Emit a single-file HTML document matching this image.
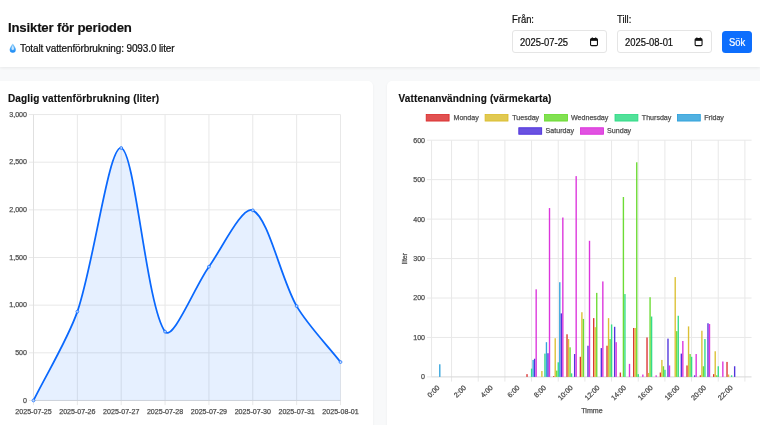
<!DOCTYPE html>
<html lang="sv"><head><meta charset="utf-8"><title>Insikter</title>
<style>
html,body{margin:0;padding:0;}
body{width:760px;height:438px;overflow:hidden;background:#fff;position:relative;font-family:"Liberation Sans", sans-serif;color:#111;}
.abs{position:absolute;white-space:nowrap;}
#gray{left:0;top:67px;width:760px;height:358px;background:#f8f9fa;overflow:hidden;}
#hdr{left:0;top:0;width:760px;height:67px;background:#fff;box-shadow:0 1px 3px rgba(0,0,0,.07);}
.card{background:#fff;border-radius:5px;box-shadow:0 1px 3px rgba(0,0,0,.05);}
#h2{left:8px;top:20.2px;font-size:13.2px;font-weight:bold;line-height:16px;letter-spacing:-0.18px;-webkit-text-stroke:0.15px #111;}
#sub{left:20px;top:42px;font-size:10.4px;line-height:13px;letter-spacing:-0.12px;transform:scaleX(.962);transform-origin:left center;-webkit-text-stroke:0.22px #111;}
.lbl{font-size:10.3px;line-height:13px;top:12.9px;transform:scaleX(.915);transform-origin:left center;-webkit-text-stroke:0.22px #111;}
.inp{top:30.4px;height:20.6px;width:92.8px;border:1px solid #e5e5e5;border-radius:3px;background:#fff;box-sizing:content-box;}
.inp span{position:absolute;left:6.9px;top:4.5px;font-size:10px;line-height:13px;transform:scaleX(.94);transform-origin:left center;-webkit-text-stroke:0.22px #111;}
#btn{left:721.7px;top:30.5px;width:30.6px;height:22.4px;background:#0d6efd;border-radius:3.5px;color:#fff;font-size:10.6px;line-height:23.2px;text-align:center;-webkit-text-stroke:0.2px #fff;}
#btn span{display:inline-block;transform:scaleX(.89);}
.ct{font-size:10px;font-weight:bold;line-height:12px;top:93px;letter-spacing:0.14px;-webkit-text-stroke:0.15px #111;}
svg{position:absolute;left:0;top:0;}
svg text{font-family:"Liberation Sans", sans-serif;stroke:#505050;stroke-width:0.25px;}
</style></head>
<body>
<div id="root" style="position:absolute;left:0;top:0;width:760px;height:438px;will-change:transform;">
<div id="gray" class="abs">
  <div class="abs card" style="left:-12px;top:13.900000000000006px;width:385px;height:400px;"></div>
  <div class="abs card" style="left:387.3px;top:13.900000000000006px;width:400px;height:400px;"></div>
</div>
<div id="hdr" class="abs"></div>
<div id="h2" class="abs">Insikter för perioden</div>
<div id="sub" class="abs">Totalt vattenförbrukning: 9093.0 liter</div>
<div class="abs lbl" style="left:512.3px;">Från:</div>
<div class="abs lbl" style="left:617px;">Till:</div>
<div class="abs inp" style="left:512px;"><span>2025-07-25</span></div>
<div class="abs inp" style="left:616.9px;"><span>2025-08-01</span></div>
<div id="btn" class="abs"><span>Sök</span></div>
<div class="abs ct" style="left:8px;">Daglig vattenförbrukning (liter)</div>
<div class="abs ct" style="left:398.6px;">Vattenanvändning (värmekarta)</div>
<svg width="760" height="438" viewBox="0 0 760 438">
<!-- drop icon -->
<defs><linearGradient id="dg" x1="0" y1="0" x2="0" y2="1"><stop offset="0" stop-color="#9fd6fb"/><stop offset="0.55" stop-color="#46a6f7"/><stop offset="1" stop-color="#1787f5"/></linearGradient></defs>
<path d="M12.75 43.5 C12.75 43.5 9.7 47.3 9.7 49.75 A3.05 3.05 0 0 0 15.8 49.75 C15.8 47.3 12.75 43.5 12.75 43.5 Z" fill="url(#dg)"/>
<path d="M12.75 45.6 C12.75 45.6 11.5 47.6 11.5 48.7 A1.25 1.25 0 0 0 14 48.7 C14 47.6 12.75 45.6 12.75 45.6 Z" fill="#fff" opacity="0.7"/>
<g transform="translate(590,37.3)" fill="none" stroke="#111" stroke-width="1.1"><rect x="0.55" y="1.3" width="6.9" height="7" rx="1.1"/><path d="M0.6 2.6H7.4" stroke-width="1.9"/><path d="M2.3 0.1V1.5M5.7 0.1V1.5" stroke-width="1"/></g>
<g transform="translate(694.6,37.3)" fill="none" stroke="#111" stroke-width="1.1"><rect x="0.55" y="1.3" width="6.9" height="7" rx="1.1"/><path d="M0.6 2.6H7.4" stroke-width="1.9"/><path d="M2.3 0.1V1.5M5.7 0.1V1.5" stroke-width="1"/></g>
<!-- LEFT CHART -->
<line x1="28.80" y1="400.45" x2="340.50" y2="400.45" stroke="#e8e8e8" stroke-width="1.0"/>
<line x1="28.80" y1="352.80" x2="340.50" y2="352.80" stroke="#e8e8e8" stroke-width="1.0"/>
<line x1="28.80" y1="305.15" x2="340.50" y2="305.15" stroke="#e8e8e8" stroke-width="1.0"/>
<line x1="28.80" y1="257.50" x2="340.50" y2="257.50" stroke="#e8e8e8" stroke-width="1.0"/>
<line x1="28.80" y1="209.85" x2="340.50" y2="209.85" stroke="#e8e8e8" stroke-width="1.0"/>
<line x1="28.80" y1="162.20" x2="340.50" y2="162.20" stroke="#e8e8e8" stroke-width="1.0"/>
<line x1="28.80" y1="114.55" x2="340.50" y2="114.55" stroke="#e8e8e8" stroke-width="1.0"/>
<line x1="33.50" y1="114.55" x2="33.50" y2="405.15" stroke="#e8e8e8" stroke-width="1.0"/>
<line x1="77.36" y1="114.55" x2="77.36" y2="405.15" stroke="#e8e8e8" stroke-width="1.0"/>
<line x1="121.21" y1="114.55" x2="121.21" y2="405.15" stroke="#e8e8e8" stroke-width="1.0"/>
<line x1="165.07" y1="114.55" x2="165.07" y2="405.15" stroke="#e8e8e8" stroke-width="1.0"/>
<line x1="208.93" y1="114.55" x2="208.93" y2="405.15" stroke="#e8e8e8" stroke-width="1.0"/>
<line x1="252.79" y1="114.55" x2="252.79" y2="405.15" stroke="#e8e8e8" stroke-width="1.0"/>
<line x1="296.64" y1="114.55" x2="296.64" y2="405.15" stroke="#e8e8e8" stroke-width="1.0"/>
<line x1="340.50" y1="114.55" x2="340.50" y2="405.15" stroke="#e8e8e8" stroke-width="1.0"/>
<line x1="33.50" y1="114.55" x2="33.50" y2="400.45" stroke="rgba(0,0,0,0.03)" stroke-width="1.0"/>
<line x1="33.50" y1="400.45" x2="340.50" y2="400.45" stroke="rgba(0,0,0,0.07)" stroke-width="1.0"/>
<path d="M33.50,400.45 C46.66,373.80 67.65,339.58 77.36,311.63 C93.96,263.84 108.77,145.16 121.21,148.00 C135.08,151.16 146.47,306.47 165.07,331.64 C172.79,342.09 195.17,285.78 208.93,266.74 C221.48,249.38 242.15,205.55 252.79,210.33 C268.46,217.36 280.93,278.93 296.64,306.10 C307.25,324.44 327.34,345.26 340.50,362.04 L340.50,400.45 L33.50,400.45 Z" fill="rgba(13,110,253,0.1)"/>
<path d="M33.50,400.45 C46.66,373.80 67.65,339.58 77.36,311.63 C93.96,263.84 108.77,145.16 121.21,148.00 C135.08,151.16 146.47,306.47 165.07,331.64 C172.79,342.09 195.17,285.78 208.93,266.74 C221.48,249.38 242.15,205.55 252.79,210.33 C268.46,217.36 280.93,278.93 296.64,306.10 C307.25,324.44 327.34,345.26 340.50,362.04" fill="none" stroke="#0a68fd" stroke-width="1.75" stroke-linejoin="round" stroke-linecap="butt"/>
<circle cx="33.50" cy="400.45" r="1.45" fill="rgba(205,225,255,0.8)" stroke="#0a68fd" stroke-width="0.7"/>
<circle cx="77.36" cy="311.63" r="1.45" fill="rgba(205,225,255,0.8)" stroke="#0a68fd" stroke-width="0.7"/>
<circle cx="121.21" cy="148.00" r="1.45" fill="rgba(205,225,255,0.8)" stroke="#0a68fd" stroke-width="0.7"/>
<circle cx="165.07" cy="331.64" r="1.45" fill="rgba(205,225,255,0.8)" stroke="#0a68fd" stroke-width="0.7"/>
<circle cx="208.93" cy="266.74" r="1.45" fill="rgba(205,225,255,0.8)" stroke="#0a68fd" stroke-width="0.7"/>
<circle cx="252.79" cy="210.33" r="1.45" fill="rgba(205,225,255,0.8)" stroke="#0a68fd" stroke-width="0.7"/>
<circle cx="296.64" cy="306.10" r="1.45" fill="rgba(205,225,255,0.8)" stroke="#0a68fd" stroke-width="0.7"/>
<circle cx="340.50" cy="362.04" r="1.45" fill="rgba(205,225,255,0.8)" stroke="#0a68fd" stroke-width="0.7"/>
<text x="27.00" y="402.58" font-size="7.1" fill="#505050" text-anchor="end">0</text>
<text x="27.00" y="354.94" font-size="7.1" fill="#505050" text-anchor="end">500</text>
<text x="27.00" y="307.28" font-size="7.1" fill="#505050" text-anchor="end">1,000</text>
<text x="27.00" y="259.63" font-size="7.1" fill="#505050" text-anchor="end">1,500</text>
<text x="27.00" y="211.99" font-size="7.1" fill="#505050" text-anchor="end">2,000</text>
<text x="27.00" y="164.34" font-size="7.1" fill="#505050" text-anchor="end">2,500</text>
<text x="27.00" y="116.69" font-size="7.1" fill="#505050" text-anchor="end">3,000</text>
<text x="33.50" y="413.69" font-size="7.1" fill="#505050" text-anchor="middle">2025-07-25</text>
<text x="77.36" y="413.69" font-size="7.1" fill="#505050" text-anchor="middle">2025-07-26</text>
<text x="121.21" y="413.69" font-size="7.1" fill="#505050" text-anchor="middle">2025-07-27</text>
<text x="165.07" y="413.69" font-size="7.1" fill="#505050" text-anchor="middle">2025-07-28</text>
<text x="208.93" y="413.69" font-size="7.1" fill="#505050" text-anchor="middle">2025-07-29</text>
<text x="252.79" y="413.69" font-size="7.1" fill="#505050" text-anchor="middle">2025-07-30</text>
<text x="296.64" y="413.69" font-size="7.1" fill="#505050" text-anchor="middle">2025-07-31</text>
<text x="340.50" y="413.69" font-size="7.1" fill="#505050" text-anchor="middle">2025-08-01</text>
<!-- RIGHT CHART -->
<line x1="426.85" y1="376.90" x2="751.55" y2="376.90" stroke="#e8e8e8" stroke-width="1.0"/>
<text x="425.05" y="379.38" font-size="7.1" fill="#505050" text-anchor="end">0</text>
<line x1="426.85" y1="337.45" x2="751.55" y2="337.45" stroke="#e8e8e8" stroke-width="1.0"/>
<text x="425.05" y="339.94" font-size="7.1" fill="#505050" text-anchor="end">100</text>
<line x1="426.85" y1="298.00" x2="751.55" y2="298.00" stroke="#e8e8e8" stroke-width="1.0"/>
<text x="425.05" y="300.49" font-size="7.1" fill="#505050" text-anchor="end">200</text>
<line x1="426.85" y1="258.55" x2="751.55" y2="258.55" stroke="#e8e8e8" stroke-width="1.0"/>
<text x="425.05" y="261.04" font-size="7.1" fill="#505050" text-anchor="end">300</text>
<line x1="426.85" y1="219.10" x2="751.55" y2="219.10" stroke="#e8e8e8" stroke-width="1.0"/>
<text x="425.05" y="221.59" font-size="7.1" fill="#505050" text-anchor="end">400</text>
<line x1="426.85" y1="179.65" x2="751.55" y2="179.65" stroke="#e8e8e8" stroke-width="1.0"/>
<text x="425.05" y="182.13" font-size="7.1" fill="#505050" text-anchor="end">500</text>
<line x1="426.85" y1="140.20" x2="751.55" y2="140.20" stroke="#e8e8e8" stroke-width="1.0"/>
<text x="425.05" y="142.69" font-size="7.1" fill="#505050" text-anchor="end">600</text>
<line x1="431.55" y1="140.20" x2="431.55" y2="376.90" stroke="#e8e8e8" stroke-width="1.0"/>
<line x1="451.55" y1="140.20" x2="451.55" y2="381.60" stroke="#e8e8e8" stroke-width="1.0"/>
<line x1="478.22" y1="140.20" x2="478.22" y2="381.60" stroke="#e8e8e8" stroke-width="1.0"/>
<line x1="504.88" y1="140.20" x2="504.88" y2="381.60" stroke="#e8e8e8" stroke-width="1.0"/>
<line x1="531.55" y1="140.20" x2="531.55" y2="381.60" stroke="#e8e8e8" stroke-width="1.0"/>
<line x1="558.22" y1="140.20" x2="558.22" y2="381.60" stroke="#e8e8e8" stroke-width="1.0"/>
<line x1="584.88" y1="140.20" x2="584.88" y2="381.60" stroke="#e8e8e8" stroke-width="1.0"/>
<line x1="611.55" y1="140.20" x2="611.55" y2="381.60" stroke="#e8e8e8" stroke-width="1.0"/>
<line x1="638.22" y1="140.20" x2="638.22" y2="381.60" stroke="#e8e8e8" stroke-width="1.0"/>
<line x1="664.88" y1="140.20" x2="664.88" y2="381.60" stroke="#e8e8e8" stroke-width="1.0"/>
<line x1="691.55" y1="140.20" x2="691.55" y2="381.60" stroke="#e8e8e8" stroke-width="1.0"/>
<line x1="718.22" y1="140.20" x2="718.22" y2="381.60" stroke="#e8e8e8" stroke-width="1.0"/>
<line x1="744.88" y1="140.20" x2="744.88" y2="381.60" stroke="#e8e8e8" stroke-width="1.0"/>
<line x1="431.55" y1="376.90" x2="751.55" y2="376.90" stroke="rgba(0,0,0,0.07)" stroke-width="1.0"/>
<rect x="526.34" y="374.14" width="1.37" height="2.76" fill="hsla(0,70%,50%,0.93)"/>
<rect x="553.01" y="376.11" width="1.37" height="0.79" fill="hsla(0,70%,50%,0.93)"/>
<rect x="566.34" y="334.29" width="1.37" height="42.61" fill="hsla(0,70%,50%,0.93)"/>
<rect x="579.68" y="356.78" width="1.37" height="20.12" fill="hsla(0,70%,50%,0.93)"/>
<rect x="593.01" y="318.12" width="1.37" height="58.78" fill="hsla(0,70%,50%,0.93)"/>
<rect x="606.34" y="345.73" width="1.37" height="31.17" fill="hsla(0,70%,50%,0.93)"/>
<rect x="619.68" y="372.56" width="1.37" height="4.34" fill="hsla(0,70%,50%,0.93)"/>
<rect x="633.01" y="327.98" width="1.37" height="48.92" fill="hsla(0,70%,50%,0.93)"/>
<rect x="646.34" y="337.45" width="1.37" height="39.45" fill="hsla(0,70%,50%,0.93)"/>
<rect x="659.68" y="372.56" width="1.37" height="4.34" fill="hsla(0,70%,50%,0.93)"/>
<rect x="686.34" y="365.46" width="1.37" height="11.44" fill="hsla(0,70%,50%,0.93)"/>
<rect x="699.68" y="375.32" width="1.37" height="1.58" fill="hsla(0,70%,50%,0.93)"/>
<rect x="713.01" y="374.14" width="1.37" height="2.76" fill="hsla(0,70%,50%,0.93)"/>
<rect x="726.34" y="361.91" width="1.37" height="14.99" fill="hsla(0,70%,50%,0.93)"/>
<rect x="541.20" y="370.98" width="1.37" height="5.92" fill="hsla(50,70%,50%,0.93)"/>
<rect x="554.53" y="338.24" width="1.37" height="38.66" fill="hsla(50,70%,50%,0.93)"/>
<rect x="567.87" y="339.03" width="1.37" height="37.87" fill="hsla(50,70%,50%,0.93)"/>
<rect x="581.20" y="312.20" width="1.37" height="64.70" fill="hsla(50,70%,50%,0.93)"/>
<rect x="594.53" y="327.19" width="1.37" height="49.71" fill="hsla(50,70%,50%,0.93)"/>
<rect x="607.87" y="318.12" width="1.37" height="58.78" fill="hsla(50,70%,50%,0.93)"/>
<rect x="634.53" y="327.98" width="1.37" height="48.92" fill="hsla(50,70%,50%,0.93)"/>
<rect x="647.87" y="372.95" width="1.37" height="3.94" fill="hsla(50,70%,50%,0.93)"/>
<rect x="661.20" y="359.94" width="1.37" height="16.96" fill="hsla(50,70%,50%,0.93)"/>
<rect x="674.53" y="277.09" width="1.37" height="99.81" fill="hsla(50,70%,50%,0.93)"/>
<rect x="687.87" y="326.40" width="1.37" height="50.50" fill="hsla(50,70%,50%,0.93)"/>
<rect x="701.20" y="330.74" width="1.37" height="46.16" fill="hsla(50,70%,50%,0.93)"/>
<rect x="714.53" y="351.26" width="1.37" height="25.64" fill="hsla(50,70%,50%,0.93)"/>
<rect x="727.87" y="374.53" width="1.37" height="2.37" fill="hsla(50,70%,50%,0.93)"/>
<rect x="556.06" y="370.59" width="1.37" height="6.31" fill="hsla(100,70%,50%,0.93)"/>
<rect x="569.39" y="347.31" width="1.37" height="29.59" fill="hsla(100,70%,50%,0.93)"/>
<rect x="582.72" y="318.91" width="1.37" height="57.99" fill="hsla(100,70%,50%,0.93)"/>
<rect x="596.06" y="292.87" width="1.37" height="84.03" fill="hsla(100,70%,50%,0.93)"/>
<rect x="609.39" y="339.03" width="1.37" height="37.87" fill="hsla(100,70%,50%,0.93)"/>
<rect x="622.72" y="197.01" width="1.37" height="179.89" fill="hsla(100,70%,50%,0.93)"/>
<rect x="636.06" y="162.29" width="1.37" height="214.61" fill="hsla(100,70%,50%,0.93)"/>
<rect x="649.39" y="297.21" width="1.37" height="79.69" fill="hsla(100,70%,50%,0.93)"/>
<rect x="662.72" y="366.25" width="1.37" height="10.65" fill="hsla(100,70%,50%,0.93)"/>
<rect x="676.06" y="331.14" width="1.37" height="45.76" fill="hsla(100,70%,50%,0.93)"/>
<rect x="689.39" y="354.02" width="1.37" height="22.88" fill="hsla(100,70%,50%,0.93)"/>
<rect x="702.72" y="366.25" width="1.37" height="10.65" fill="hsla(100,70%,50%,0.93)"/>
<rect x="716.06" y="375.32" width="1.37" height="1.58" fill="hsla(100,70%,50%,0.93)"/>
<rect x="530.91" y="368.62" width="1.37" height="8.28" fill="hsla(150,70%,50%,0.93)"/>
<rect x="544.25" y="353.62" width="1.37" height="23.28" fill="hsla(150,70%,50%,0.93)"/>
<rect x="557.58" y="362.30" width="1.37" height="14.60" fill="hsla(150,70%,50%,0.93)"/>
<rect x="570.91" y="373.35" width="1.37" height="3.55" fill="hsla(150,70%,50%,0.93)"/>
<rect x="610.91" y="324.43" width="1.37" height="52.47" fill="hsla(150,70%,50%,0.93)"/>
<rect x="624.25" y="294.06" width="1.37" height="82.84" fill="hsla(150,70%,50%,0.93)"/>
<rect x="637.58" y="374.14" width="1.37" height="2.76" fill="hsla(150,70%,50%,0.93)"/>
<rect x="650.91" y="316.54" width="1.37" height="60.36" fill="hsla(150,70%,50%,0.93)"/>
<rect x="664.25" y="369.80" width="1.37" height="7.10" fill="hsla(150,70%,50%,0.93)"/>
<rect x="677.58" y="315.75" width="1.37" height="61.15" fill="hsla(150,70%,50%,0.93)"/>
<rect x="690.91" y="356.78" width="1.37" height="20.12" fill="hsla(150,70%,50%,0.93)"/>
<rect x="704.25" y="339.03" width="1.37" height="37.87" fill="hsla(150,70%,50%,0.93)"/>
<rect x="717.58" y="366.25" width="1.37" height="10.65" fill="hsla(150,70%,50%,0.93)"/>
<rect x="730.91" y="375.32" width="1.37" height="1.58" fill="hsla(150,70%,50%,0.93)"/>
<rect x="439.10" y="364.28" width="1.37" height="12.62" fill="hsla(200,70%,50%,0.93)"/>
<rect x="532.44" y="359.94" width="1.37" height="16.96" fill="hsla(200,70%,50%,0.93)"/>
<rect x="545.77" y="342.18" width="1.37" height="34.72" fill="hsla(200,70%,50%,0.93)"/>
<rect x="559.10" y="282.22" width="1.37" height="94.68" fill="hsla(200,70%,50%,0.93)"/>
<rect x="533.96" y="358.75" width="1.37" height="18.15" fill="hsla(250,70%,50%,0.93)"/>
<rect x="547.30" y="353.23" width="1.37" height="23.67" fill="hsla(250,70%,50%,0.93)"/>
<rect x="560.63" y="313.39" width="1.37" height="63.51" fill="hsla(250,70%,50%,0.93)"/>
<rect x="573.96" y="354.02" width="1.37" height="22.88" fill="hsla(250,70%,50%,0.93)"/>
<rect x="587.30" y="345.73" width="1.37" height="31.17" fill="hsla(250,70%,50%,0.93)"/>
<rect x="600.63" y="348.10" width="1.37" height="28.80" fill="hsla(250,70%,50%,0.93)"/>
<rect x="613.96" y="326.80" width="1.37" height="50.10" fill="hsla(250,70%,50%,0.93)"/>
<rect x="667.30" y="338.63" width="1.37" height="38.27" fill="hsla(250,70%,50%,0.93)"/>
<rect x="680.63" y="353.62" width="1.37" height="23.28" fill="hsla(250,70%,50%,0.93)"/>
<rect x="693.96" y="375.32" width="1.37" height="1.58" fill="hsla(250,70%,50%,0.93)"/>
<rect x="707.30" y="323.25" width="1.37" height="53.65" fill="hsla(250,70%,50%,0.93)"/>
<rect x="733.96" y="366.25" width="1.37" height="10.65" fill="hsla(250,70%,50%,0.93)"/>
<rect x="535.49" y="289.32" width="1.37" height="87.58" fill="hsla(300,70%,50%,0.93)"/>
<rect x="548.82" y="208.05" width="1.37" height="168.85" fill="hsla(300,70%,50%,0.93)"/>
<rect x="562.15" y="217.52" width="1.37" height="159.38" fill="hsla(300,70%,50%,0.93)"/>
<rect x="575.49" y="176.10" width="1.37" height="200.80" fill="hsla(300,70%,50%,0.93)"/>
<rect x="588.82" y="240.80" width="1.37" height="136.10" fill="hsla(300,70%,50%,0.93)"/>
<rect x="602.15" y="281.43" width="1.37" height="95.47" fill="hsla(300,70%,50%,0.93)"/>
<rect x="615.49" y="342.18" width="1.37" height="34.72" fill="hsla(300,70%,50%,0.93)"/>
<rect x="628.82" y="363.88" width="1.37" height="13.02" fill="hsla(300,70%,50%,0.93)"/>
<rect x="642.15" y="374.53" width="1.37" height="2.37" fill="hsla(300,70%,50%,0.93)"/>
<rect x="655.49" y="375.32" width="1.37" height="1.58" fill="hsla(300,70%,50%,0.93)"/>
<rect x="668.82" y="365.46" width="1.37" height="11.44" fill="hsla(300,70%,50%,0.93)"/>
<rect x="682.15" y="341.00" width="1.37" height="35.90" fill="hsla(300,70%,50%,0.93)"/>
<rect x="695.49" y="354.02" width="1.37" height="22.88" fill="hsla(300,70%,50%,0.93)"/>
<rect x="708.82" y="324.04" width="1.37" height="52.86" fill="hsla(300,70%,50%,0.93)"/>
<rect x="722.15" y="361.51" width="1.37" height="15.39" fill="hsla(300,70%,50%,0.93)"/>
<text transform="translate(438.22,386.40) rotate(-45)" x="0" y="2.48" font-size="7.1" fill="#505050" text-anchor="end">0:00</text>
<text transform="translate(464.88,386.40) rotate(-45)" x="0" y="2.48" font-size="7.1" fill="#505050" text-anchor="end">2:00</text>
<text transform="translate(491.55,386.40) rotate(-45)" x="0" y="2.48" font-size="7.1" fill="#505050" text-anchor="end">4:00</text>
<text transform="translate(518.22,386.40) rotate(-45)" x="0" y="2.48" font-size="7.1" fill="#505050" text-anchor="end">6:00</text>
<text transform="translate(544.88,386.40) rotate(-45)" x="0" y="2.48" font-size="7.1" fill="#505050" text-anchor="end">8:00</text>
<text transform="translate(571.55,386.40) rotate(-45)" x="0" y="2.48" font-size="7.1" fill="#505050" text-anchor="end">10:00</text>
<text transform="translate(598.22,386.40) rotate(-45)" x="0" y="2.48" font-size="7.1" fill="#505050" text-anchor="end">12:00</text>
<text transform="translate(624.88,386.40) rotate(-45)" x="0" y="2.48" font-size="7.1" fill="#505050" text-anchor="end">14:00</text>
<text transform="translate(651.55,386.40) rotate(-45)" x="0" y="2.48" font-size="7.1" fill="#505050" text-anchor="end">16:00</text>
<text transform="translate(678.22,386.40) rotate(-45)" x="0" y="2.48" font-size="7.1" fill="#505050" text-anchor="end">18:00</text>
<text transform="translate(704.88,386.40) rotate(-45)" x="0" y="2.48" font-size="7.1" fill="#505050" text-anchor="end">20:00</text>
<text transform="translate(731.55,386.40) rotate(-45)" x="0" y="2.48" font-size="7.1" fill="#505050" text-anchor="end">22:00</text>
<text x="591.95" y="413.09" font-size="7.1" fill="#505050" text-anchor="middle">Timme</text>
<text transform="translate(404.8,258.55) rotate(-90)" x="0" y="2.48" font-size="7.1" fill="#505050" text-anchor="middle">liter</text>
<rect x="426.20" y="114.55" width="22.9" height="6.5" fill="hsla(0,70%,50%,0.8)" stroke="hsl(0,70%,50%)" stroke-width="0.8"/>
<text x="453.50" y="120.28" font-size="7.1" fill="#505050">Monday</text>
<rect x="485.10" y="114.55" width="22.9" height="6.5" fill="hsla(50,70%,50%,0.8)" stroke="hsl(50,70%,50%)" stroke-width="0.8"/>
<text x="512.20" y="120.28" font-size="7.1" fill="#505050">Tuesday</text>
<rect x="544.60" y="114.55" width="22.9" height="6.5" fill="hsla(100,70%,50%,0.8)" stroke="hsl(100,70%,50%)" stroke-width="0.8"/>
<text x="571.00" y="120.28" font-size="7.1" fill="#505050">Wednesday</text>
<rect x="615.00" y="114.55" width="22.9" height="6.5" fill="hsla(150,70%,50%,0.8)" stroke="hsl(150,70%,50%)" stroke-width="0.8"/>
<text x="641.80" y="120.28" font-size="7.1" fill="#505050">Thursday</text>
<rect x="677.40" y="114.55" width="22.9" height="6.5" fill="hsla(200,70%,50%,0.8)" stroke="hsl(200,70%,50%)" stroke-width="0.8"/>
<text x="704.20" y="120.28" font-size="7.1" fill="#505050">Friday</text>
<rect x="518.80" y="127.75" width="22.9" height="6.5" fill="hsla(250,70%,50%,0.8)" stroke="hsl(250,70%,50%)" stroke-width="0.8"/>
<text x="545.60" y="133.49" font-size="7.1" fill="#505050">Saturday</text>
<rect x="580.60" y="127.75" width="22.9" height="6.5" fill="hsla(300,70%,50%,0.8)" stroke="hsl(300,70%,50%)" stroke-width="0.8"/>
<text x="607.10" y="133.49" font-size="7.1" fill="#505050">Sunday</text>
</svg>
</div>
</body></html>
